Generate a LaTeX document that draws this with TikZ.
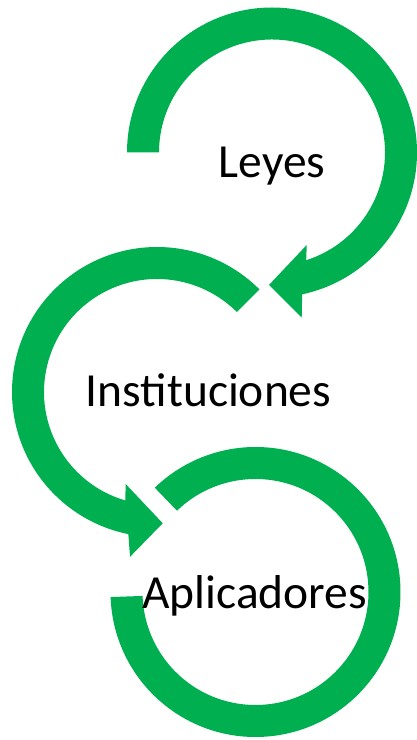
\documentclass[tikz,border=0pt]{standalone}
\usepackage{fontspec}
\setmainfont{Carlito}
\usetikzlibrary{calc}
\definecolor{ogreen}{HTML}{00B050}
\begin{document}
\begin{tikzpicture}[x=1pt,y=1pt,
  ringarrow/.style={fill=ogreen,draw=none},
  steplabel/.style={font=\fontsize{47.5}{52}\selectfont, anchor=base, inner sep=0pt, text=black}]
\useasboundingbox (0,0) rectangle (417,740);
% circle 1 (Leyes)
\coordinate (c1) at (272,587.5);
\fill[ringarrow] ($(c1)+(180:145)$) arc[start angle=180, end angle=-78, radius=145]
  -- ($(c1)+(-79.8:167.8)$) -- ($(c1)+(-91.3:132.5)$) -- ($(c1)+(-69.4:98.8)$)
  -- ($(c1)+(-72.4:113)$) arc[start angle=-72.4, end angle=180, radius=113] -- cycle;
% circle 2 (Instituciones)
\coordinate (c2) at (157,348);
\fill[ringarrow] ($(c2)+(45:145)$) arc[start angle=45, end angle=258.6, radius=145]
  -- ($(c2)+(260.7:167)$) -- ($(c2)+(272.5:131.4)$) -- ($(c2)+(251.2:97.2)$)
  -- ($(c2)+(253.7:113)$) arc[start angle=253.7, end angle=45, radius=113] -- cycle;
% circle 3 (Aplicadores)
\coordinate (c3) at (255.5,148);
\fill[ringarrow] ($(c3)+(182:145)$) arc[start angle=182, end angle=494, radius=145]
  -- ($(c3)+(494:113)$) arc[start angle=494, end angle=182, radius=113] -- cycle;
% labels
\node[steplabel] (leyes) at (272,562) {Leyes};
\node[steplabel] (inst) at (208.5,333.3) {Instituciones};
\node[steplabel] (apl) at (254.7,131) {Aplicadores};
\end{tikzpicture}
\end{document}
